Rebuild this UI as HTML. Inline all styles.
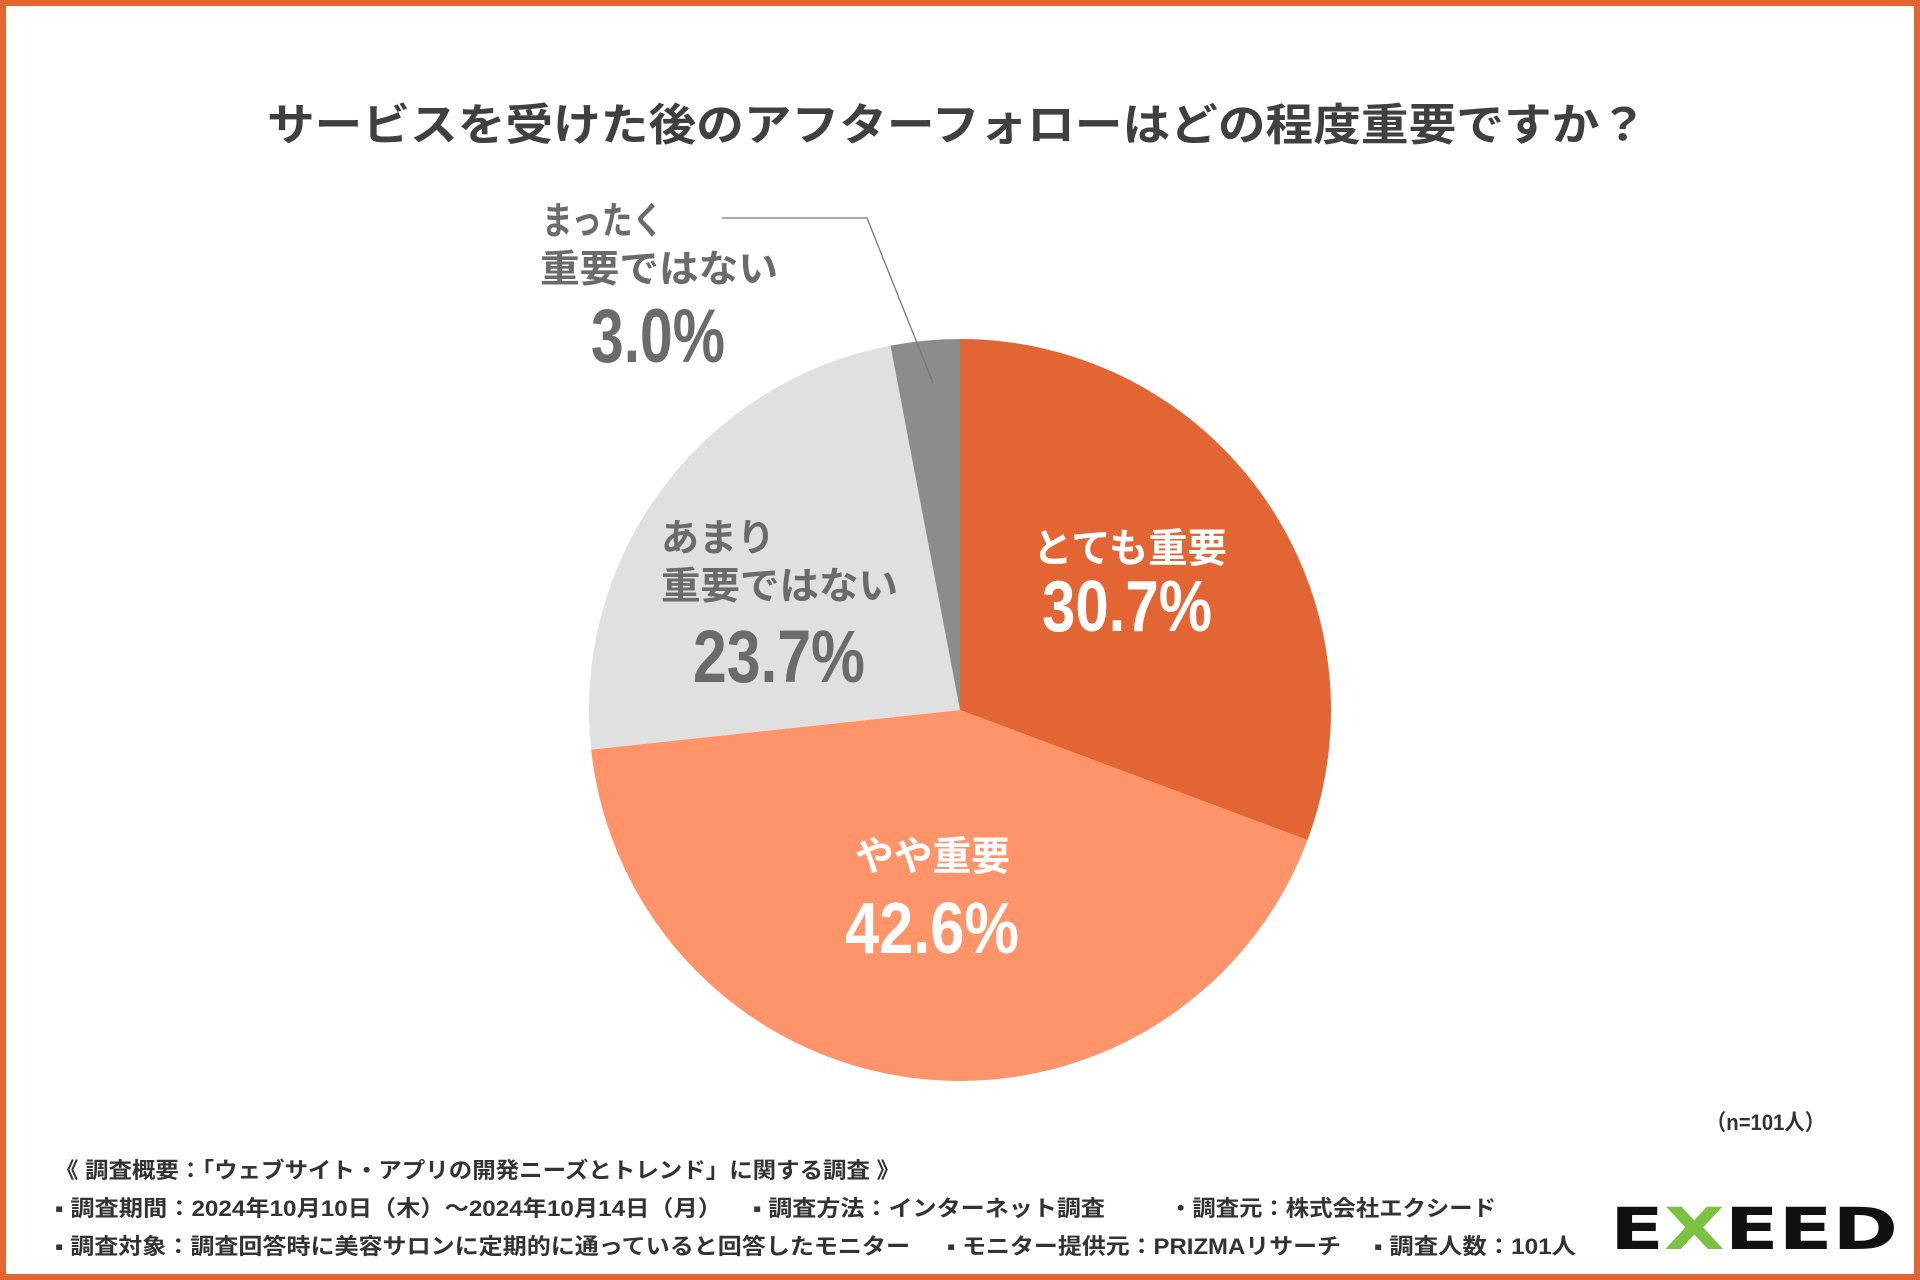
<!DOCTYPE html>
<html><head><meta charset="utf-8">
<style>
html,body{margin:0;padding:0;background:#fff;}
svg{display:block;}
text{font-family:"Liberation Sans","Noto Sans CJK JP",sans-serif;font-weight:bold;}
.num{font-family:"Liberation Sans Narrow","Liberation Sans","Noto Sans CJK JP",sans-serif;}
</style></head>
<body>
<svg id="chart" width="1920" height="1280" viewBox="0 0 1920 1280" xmlns="http://www.w3.org/2000/svg">
<defs>
<linearGradient id="xg" x1="0" x2="1" y1="0" y2="0">
<stop offset="0.5" stop-color="#7cc242"/><stop offset="0.5" stop-color="#29abe2"/>
</linearGradient>
</defs>
<rect x="3" y="3" width="1914" height="1274" fill="#fff" stroke="#e46534" stroke-width="6"/>
<text x="267" y="140" font-size="44" fill="#404040" textLength="1380" lengthAdjust="spacingAndGlyphs">サービスを受けた後のアフターフォローはどの程度重要ですか？</text>
<g id="slices"></g>
<polyline points="722,218 867,218 933,383" fill="none" stroke="#777" stroke-width="1.3"/>

<text x="1033" y="562" font-size="40" fill="#fff" textLength="194" lengthAdjust="spacingAndGlyphs">とても重要</text>
<text class="num" x="1042" y="631" font-size="72" fill="#fff" textLength="170" lengthAdjust="spacingAndGlyphs">30.7%</text>

<text x="855" y="870" font-size="40" fill="#fff" textLength="155" lengthAdjust="spacingAndGlyphs">やや重要</text>
<text class="num" x="845" y="953" font-size="72" fill="#fff" textLength="174" lengthAdjust="spacingAndGlyphs">42.6%</text>

<text x="661" y="551" font-size="38" fill="#6b6b6b" textLength="114" lengthAdjust="spacingAndGlyphs">あまり</text>
<text x="661" y="599" font-size="38" fill="#6b6b6b" textLength="237" lengthAdjust="spacingAndGlyphs">重要ではない</text>
<text class="num" x="693" y="682" font-size="74" fill="#6b6b6b" textLength="172" lengthAdjust="spacingAndGlyphs">23.7%</text>

<text x="542" y="234" font-size="38" fill="#6b6b6b" textLength="121" lengthAdjust="spacingAndGlyphs">まったく</text>
<text x="540" y="282" font-size="38" fill="#6b6b6b" textLength="238" lengthAdjust="spacingAndGlyphs">重要ではない</text>
<text class="num" x="591" y="362" font-size="76" fill="#6b6b6b" textLength="134" lengthAdjust="spacingAndGlyphs">3.0%</text>

<text x="1706" y="1130" font-size="22" fill="#333" textLength="119" lengthAdjust="spacingAndGlyphs">（n=101人）</text>

<g font-size="22" fill="#333">
<text x="55" y="1178" textLength="845" lengthAdjust="spacingAndGlyphs">《 調査概要：「ウェブサイト・アプリの開発ニーズとトレンド」に関する調査 》</text>
<text x="55" y="1216" textLength="667" lengthAdjust="spacingAndGlyphs">▪ 調査期間：2024年10月10日（木）〜2024年10月14日（月）</text>
<text x="753" y="1216" textLength="352" lengthAdjust="spacingAndGlyphs">▪ 調査方法：インターネット調査</text>
<text x="1169" y="1216" textLength="327" lengthAdjust="spacingAndGlyphs">・調査元：株式会社エクシード</text>
<text x="55" y="1254" textLength="855" lengthAdjust="spacingAndGlyphs">▪ 調査対象：調査回答時に美容サロンに定期的に通っていると回答したモニター</text>
<text x="947" y="1254" textLength="394" lengthAdjust="spacingAndGlyphs">▪ モニター提供元：PRIZMAリサーチ</text>
<text x="1374" y="1254" textLength="202" lengthAdjust="spacingAndGlyphs">▪ 調査人数：101人</text>
</g>

<g>
<text x="1610" y="1249" font-size="58" textLength="288" lengthAdjust="spacingAndGlyphs" fill="#111" style="font-family:'DejaVu Sans','Liberation Sans',sans-serif;font-weight:bold">E<tspan fill="url(#xg)">X</tspan>EED</text>
</g>
</svg>
<script>
const categories = ["とても重要", "やや重要", "あまり重要ではない", "まったく重要ではない"];
const values = [30.7, 42.6, 23.7, 3.0];
const colors = ["#e46534", "#ff946a", "#e0e0e0", "#8c8c8c"];
const cx = 960, cy = 710, r = 371;
const total = values.reduce((a,b)=>a+b,0);
const g = document.getElementById('slices');
let a0 = -Math.PI/2;
values.forEach((v,i)=>{
  const a1 = a0 + v/total*2*Math.PI;
  const x0 = cx + r*Math.cos(a0), y0 = cy + r*Math.sin(a0);
  const x1 = cx + r*Math.cos(a1), y1 = cy + r*Math.sin(a1);
  const large = (a1-a0) > Math.PI ? 1 : 0;
  const p = document.createElementNS('http://www.w3.org/2000/svg','path');
  p.setAttribute('d', `M${cx},${cy} L${x0},${y0} A${r},${r} 0 ${large} 1 ${x1},${y1} Z`);
  p.setAttribute('fill', colors[i]);
  
  
  g.appendChild(p);
  a0 = a1;
});
</script>
</body></html>
